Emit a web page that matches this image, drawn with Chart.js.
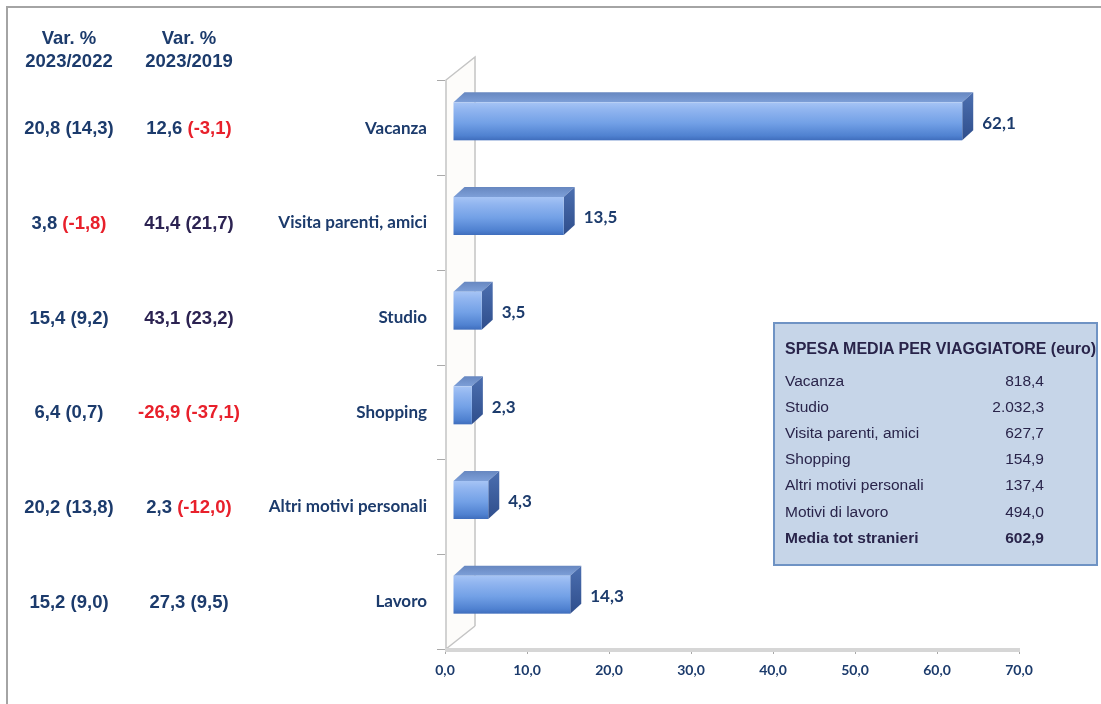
<!DOCTYPE html>
<html>
<head>
<meta charset="utf-8">
<script src="https://cdn.jsdelivr.net/npm/chart.js@4.4.1/dist/chart.umd.min.js"></script>
<style>
  html, body { margin:0; padding:0; background:#fff; }
  body { width:1101px; height:704px; overflow:hidden; position:relative; font-family:"Liberation Sans", Arial, sans-serif; }
  #frame { position:absolute; left:6px; top:6px; width:1200px; height:800px; border:2px solid #a4a4a4; }
  #cv { position:absolute; left:0; top:0; }
  .var { position:absolute; font-weight:bold; font-size:18.5px; line-height:24px; color:#1c3b6c; text-align:center; white-space:nowrap; transform:translate(-50%,-50%); }
  .var .neg { color:#e8202b; }
  .var.dark { color:#2c2352; }
  #spesa { position:absolute; left:773px; top:322px; width:321px; height:240px; background:#c6d5e8; border:2px solid #6f93c4; color:#29244a; font-size:15.5px; }
  #spesa .r { position:absolute; left:10px; width:259px; height:26px; line-height:26px; white-space:nowrap; }
  #spesa .r span { position:absolute; right:0; top:0; }
  #spesa .t { font-weight:bold; width:320px; font-size:16px; }
  #spesa .b { font-weight:bold; }
</style>
</head>
<body>
<div id="frame"></div>
<canvas id="cv" width="1101" height="704"></canvas>
<div id="cols"></div>
<div id="spesa"></div>
<script>
/* dati: motivi del viaggio, quota % e variazioni */
const categories = ['Vacanza', 'Visita parenti, amici', 'Studio', 'Shopping', 'Altri motivi personali', 'Lavoro'];
const quota      = [62.1, 13.5, 3.5, 2.3, 4.3, 14.3];
const var2022    = [20.8, 3.8, 15.4, 6.4, 20.2, 15.2];
const var2022b   = [14.3, -1.8, 9.2, 0.7, 13.8, 9.0];
const var2019    = [12.6, 41.4, 43.1, -26.9, 2.3, 27.3];
const var2019b   = [-3.1, 21.7, 23.2, -37.1, -12.0, 9.5];
const xMin = 0, xMax = 70, xStep = 10;

const headers = [['Var. %', '2023/2022'], ['Var. %', '2023/2019']];

const spesaTitolo = 'SPESA MEDIA PER VIAGGIATORE (euro)';
const spesaVoci   = ['Vacanza', 'Studio', 'Visita parenti, amici', 'Shopping', 'Altri motivi personali', 'Motivi di lavoro'];
const spesaValori = [818.4, 2032.3, 627.7, 154.9, 137.4, 494.0];
const spesaTotLbl = 'Media tot stranieri';
const spesaTot    = 602.9;

/* formato italiano: 2.032,3 */
function fmt(v) {
  const s = Math.abs(v).toFixed(1).split('.');
  const int = s[0].replace(/\B(?=(\d{3})+(?!\d))/g, '.');
  return (v < 0 ? '-' : '') + int + ',' + s[1];
}

const NAVY = '#1c3b6c';
const DX = 8, DY = -7;     // bar front offset inside the 3d box
const SX = 11, SY = -10;   // bar depth
const WX = 30, WY = -23;   // wall depth

const bar3d = {
  id: 'bar3d',
  beforeDatasetsDraw(chart) {
    const { ctx, chartArea: a } = chart;
    ctx.save();
    // wall
    ctx.fillStyle = '#fdfcfa';
    ctx.beginPath();
    ctx.moveTo(a.left + 1, a.top - 1);
    ctx.lineTo(a.left + WX, a.top + WY - 1);
    ctx.lineTo(a.left + WX, a.bottom + WY);
    ctx.lineTo(a.left + 1, a.bottom);
    ctx.closePath();
    ctx.fill();
    ctx.strokeStyle = '#c4c4c4';
    ctx.lineWidth = 1.5;
    ctx.beginPath();
    ctx.moveTo(a.left + 1, a.bottom);
    ctx.lineTo(a.left + 1, a.top - 1);
    ctx.lineTo(a.left + WX, a.top + WY - 1);
    ctx.lineTo(a.left + WX, a.bottom + WY);
    ctx.moveTo(a.left + 1, a.bottom);
    ctx.lineTo(a.left + WX, a.bottom + WY);
    ctx.stroke();
    // floor edge
    ctx.strokeStyle = '#d6d6d6';
    ctx.lineWidth = 4;
    ctx.beginPath();
    ctx.moveTo(a.left, a.bottom + 1);
    ctx.lineTo(a.right + 1, a.bottom + 1);
    ctx.stroke();
    ctx.restore();
  },
  afterDatasetsDraw(chart) {
    const { ctx } = chart;
    const meta = chart.getDatasetMeta(0);
    ctx.save();
    meta.data.forEach((bar, i) => {
      const p = bar.getProps(['x', 'y', 'base', 'height'], true);
      const x0 = p.base + DX, x1 = p.x + DX;
      const y0 = p.y - p.height / 2 + DY, y1 = p.y + p.height / 2 + DY;
      // top face
      const gt = ctx.createLinearGradient(0, y0 + SY, 0, y0);
      gt.addColorStop(0, '#6787c0');
      gt.addColorStop(1, '#7d9fd8');
      ctx.fillStyle = gt;
      ctx.beginPath();
      ctx.moveTo(x0, y0);
      ctx.lineTo(x0 + SX, y0 + SY);
      ctx.lineTo(x1 + SX, y0 + SY);
      ctx.lineTo(x1, y0);
      ctx.closePath();
      ctx.fill();
      // side face
      const gs = ctx.createLinearGradient(0, y0 + SY, 0, y1);
      gs.addColorStop(0, '#4c6fb0');
      gs.addColorStop(1, '#2f4e8c');
      ctx.fillStyle = gs;
      ctx.beginPath();
      ctx.moveTo(x1, y0);
      ctx.lineTo(x1 + SX, y0 + SY);
      ctx.lineTo(x1 + SX, y1 + SY);
      ctx.lineTo(x1, y1);
      ctx.closePath();
      ctx.fill();
      // front face
      const gf = ctx.createLinearGradient(0, y0, 0, y1);
      gf.addColorStop(0, '#a6c4f5');
      gf.addColorStop(0.18, '#92b6f0');
      gf.addColorStop(0.55, '#72a0e6');
      gf.addColorStop(0.88, '#4f81d0');
      gf.addColorStop(1, '#3f6dbc');
      ctx.fillStyle = gf;
      ctx.fillRect(x0, y0, x1 - x0, y1 - y0);
      // label
      ctx.fillStyle = NAVY;
      ctx.font = 'bold 17px Lato';
      ctx.textAlign = 'left';
      ctx.textBaseline = 'middle';
      ctx.fillText(fmt(quota[i]), x1 + SX + 9, p.y + DY + 2);
    });
    ctx.restore();
  }
};

const chart = new Chart(document.getElementById('cv').getContext('2d'), {
  type: 'bar',
  data: {
    labels: categories,
    datasets: [{ data: quota, backgroundColor: 'rgba(0,0,0,0)', borderWidth: 0, barThickness: 38 }]
  },
  options: {
    indexAxis: 'y',
    responsive: false,
    animation: false,
    layout: { padding: { left: 0, right: 82, top: 81, bottom: 0 } },
    plugins: { legend: { display: false }, tooltip: { enabled: false } },
    scales: {
      x: {
        min: xMin, max: xMax,
        ticks: { stepSize: xStep, callback: v => fmt(v), color: NAVY, font: { family: 'Lato', weight: 'bold', size: 14 }, padding: 8, maxRotation: 0 },
        grid: { drawOnChartArea: false, tickLength: 5, color: '#a8a8a8' },
        border: { display: false },
        afterFit(s) { s.height = 55; }
      },
      y: {
        ticks: { color: NAVY, font: { family: 'Lato', weight: 'bold', size: 17 }, padding: 10 },
        grid: { drawOnChartArea: false, offset: true, tickLength: 8, color: '#aaaaaa' },
        border: { display: false },
        afterFit(s) { s.width = 445; }
      }
    }
  },
  plugins: [bar3d]
});

/* colonne di variazione a sinistra */
const cols = document.getElementById('cols');
const colX = [69, 189];
const dark2019 = [false, true, true, false, false, false];
function part(v, paren) {
  const t = paren ? '(' + fmt(v) + ')' : fmt(v);
  return v < 0 ? '<span class="neg">' + t + '</span>' : t;
}
function addDiv(cls, x, y, html) {
  const d = document.createElement('div');
  d.className = cls;
  d.style.left = x + 'px';
  d.style.top = y + 'px';
  d.innerHTML = html;
  cols.appendChild(d);
}
headers.forEach((h, c) => {
  addDiv('var', colX[c], 38, h[0]);
  addDiv('var', colX[c], 61, h[1]);
});
categories.forEach((c, i) => {
  const y = chart.scales.y.getPixelForValue(i);
  addDiv('var', colX[0], y, part(var2022[i]) + ' ' + part(var2022b[i], true));
  addDiv('var' + (dark2019[i] ? ' dark' : ''), colX[1], y, part(var2019[i]) + ' ' + part(var2019b[i], true));
});

/* riquadro spesa media */
const box = document.getElementById('spesa');
let html = '<div class="r t" style="top:12px">' + spesaTitolo + '</div>';
spesaVoci.forEach((v, i) => {
  html += '<div class="r" style="top:' + (44 + i * 26.1) + 'px">' + v + '<span>' + fmt(spesaValori[i]) + '</span></div>';
});
html += '<div class="r b" style="top:' + (44 + 6 * 26.1) + 'px">' + spesaTotLbl + '<span>' + fmt(spesaTot) + '</span></div>';
box.innerHTML = html;
</script>
</body>
</html>
